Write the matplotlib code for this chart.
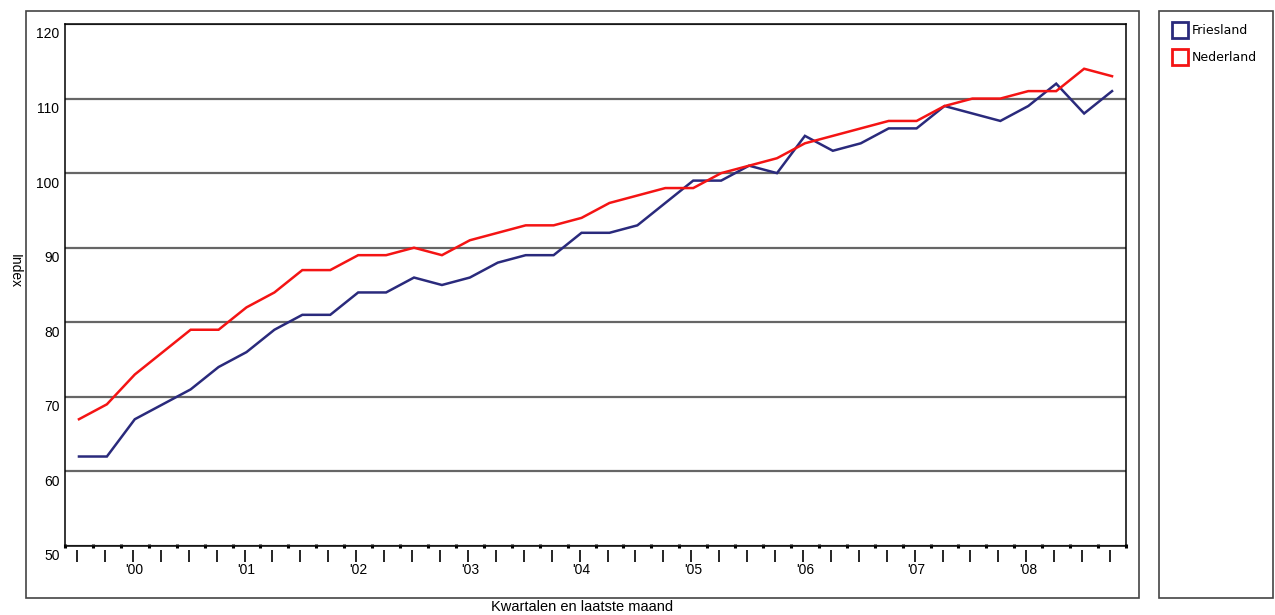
import matplotlib
matplotlib.use("Agg")
import matplotlib.pyplot as plt
import matplotlib.transforms as mtransforms
from matplotlib.patches import Rectangle, Patch
import numpy as np

# index per kwartaal, 38 punten
friesland = [62, 62, 67, 69, 71, 74, 76, 79, 81, 81, 84, 84, 86, 85, 86, 88, 89, 89, 92,
             92, 93, 96, 99, 99, 101, 100, 105, 103, 104, 106, 106, 109, 108, 107, 109,
             112, 108, 111]
nederland = [67, 69, 73, 76, 79, 79, 82, 84, 87, 87, 89, 89, 90, 89, 91, 92, 93, 93, 94,
             96, 97, 98, 98, 100, 101, 102, 104, 105, 106, 107, 107, 109, 110, 110, 111,
             111, 114, 113]
year_labels = ["'00", "'01", "'02", "'03", "'04", "'05", "'06", "'07", "'08"]
y_ticks = [50, 60, 70, 80, 90, 100, 110, 120]

W, H = 1275, 615
fig = plt.figure(figsize=(W / 100, H / 100), dpi=100)
fig.patch.set_facecolor("white")


def fx(px):
    return px / W


def fy(py):
    return 1 - py / H


# kaders om grafiek en legenda
fig.patches.append(Rectangle((fx(26), fy(598)), fx(1139) - fx(26), fy(11) - fy(598),
                             transform=fig.transFigure, fill=False, edgecolor="#444444", lw=1.2))
fig.patches.append(Rectangle((fx(1159), fy(598)), fx(1273) - fx(1159), fy(11) - fy(598),
                             transform=fig.transFigure, fill=False, edgecolor="#444444", lw=1.2))

ax = fig.add_axes([fx(65), fy(546), fx(1126) - fx(65), fy(24) - fy(546)])
n = len(friesland)
x = np.arange(n)

ax.plot(x, friesland, color="#2A2A7C", lw=1.8, solid_joinstyle="miter")
ax.plot(x, nederland, color="#F41414", lw=1.8, solid_joinstyle="miter")

ax.set_xlim(-0.5, n - 0.5)
ax.set_ylim(50, 120)

for s in ax.spines.values():
    s.set_color("black")
    s.set_linewidth(1.1)

ax.set_yticks(y_ticks)
ax.set_yticklabels([str(v) for v in y_ticks], fontsize=10, family="Liberation Sans")
ax.tick_params(axis="y", length=0, pad=4)
shift = mtransforms.ScaledTranslation(0, -9 / 100, fig.dpi_scale_trans)
for lab in ax.get_yticklabels():
    lab.set_transform(lab.get_transform() + shift)
ax.yaxis.grid(True, color="#666666", lw=1.6)
ax.set_axisbelow(True)

# jaarlabels op eerste kwartaal, punten op kwartaalgrenzen
ax.set_xticks(x[2::4])
ax.set_xticklabels(year_labels, fontsize=10, family="Liberation Sans")
ax.tick_params(axis="x", which="major", length=0, pad=12)
ax.set_xticks(np.arange(-0.5, n, 1.0), minor=True)
ax.tick_params(axis="x", which="minor", direction="inout", length=3, width=2.2, color="black")

# losse streepjes onder de as
trans = mtransforms.blended_transform_factory(ax.transData, ax.transAxes)
ax.plot(x - 0.07, np.full(n, -0.0195), transform=trans, ls="none", marker="|",
        markersize=9, markeredgewidth=1.2, color="black", clip_on=False)

fig.text(fx(582), fy(607), "Kwartalen en laatste maand", ha="center", va="center",
         fontsize=10.5, family="Liberation Sans")
fig.text(fx(15), fy(271), "Index", ha="center", va="center", rotation=270,
         fontsize=10, family="Liberation Sans")

handles = [Patch(facecolor="none", edgecolor="#2A2A7C", lw=2.0, label="Friesland"),
           Patch(facecolor="none", edgecolor="#F41414", lw=2.0, label="Nederland")]
fig.legend(handles=handles, loc="upper left", bbox_to_anchor=(fx(1172), fy(22)),
           frameon=False, handlelength=1.25, handleheight=1.6, handletextpad=0.3,
           labelspacing=0.9, borderaxespad=0, borderpad=0,
           prop={"family": "DejaVu Sans", "size": 9})

fig.savefig("out.png", dpi=100, facecolor="white")
